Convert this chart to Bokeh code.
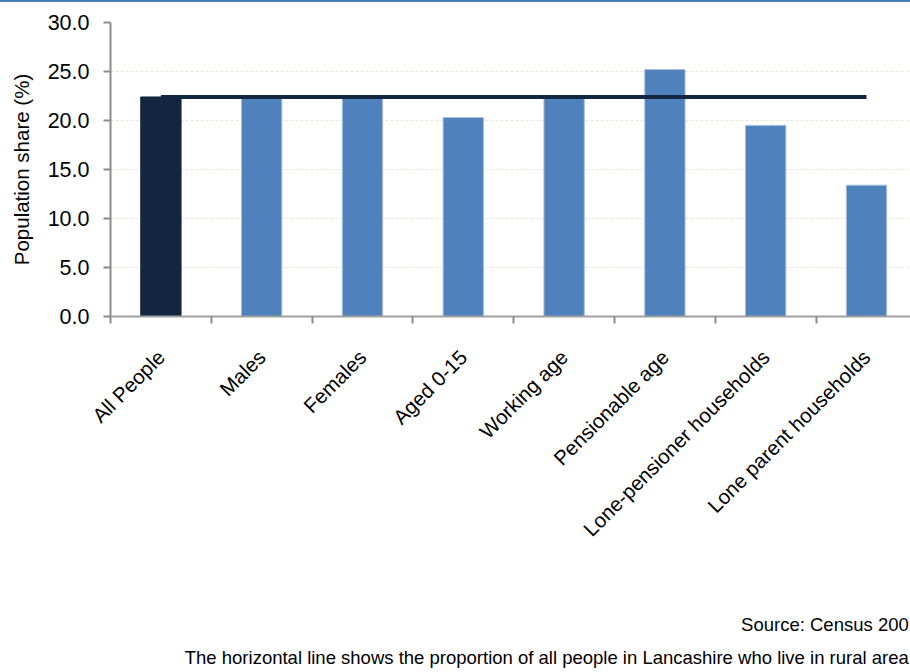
from bokeh.plotting import figure
from bokeh.layouts import column
from bokeh.models import (Range1d, FixedTicker, NumeralTickFormatter, Div,
                          ColumnDataSource)
from bokeh.core.properties import value
from bokeh.embed import file_html
from bokeh.resources import INLINE

# ---- data ----
categories = ["All People", "Males", "Females", "Aged 0-15", "Working age",
              "Pensionable age", "Lone-pensioner households", "Lone parent households"]
shares = [22.4, 22.3, 22.5, 20.3, 22.5, 25.2, 19.5, 13.4]
all_people_line = 22.4
y_ticks = [0, 5, 10, 15, 20, 25, 30]
source_note = "Source: Census 200"
line_note = "The horizontal line shows the proportion of all people in Lancashire who live in rural area"

FONT = "Liberation Sans"
DARK = "#13263f"
BLUE = "#4f81bd"

positions = [i + 0.5 for i in range(len(categories))]
colors = [DARK] + [BLUE] * (len(categories) - 1)
lines = [DARK] + ["#a9c0dc"] * (len(categories) - 1)
src = ColumnDataSource(dict(x=positions, top=shares, color=colors, lc=lines))

# thin blue rule at the very top
top_rule = Div(text="", width=910, height=2,
               styles={"background-color": "#4a7ebb", "margin": "0"})

p = figure(width=910, height=598, output_backend="svg", toolbar_location=None,
           x_range=Range1d(0, 800 / 100.8), y_range=Range1d(0, 30),
           min_border_left=110, min_border_right=0, min_border_top=20,
           min_border_bottom=284)
p.outline_line_color = None
p.background_fill_color = "white"
p.border_fill_color = "white"

p.vbar(x="x", top="top", width=0.4, bottom=0, fill_color="color",
       line_color="lc", line_width=1, source=src)
p.line(x=[positions[0], positions[-1]], y=[all_people_line, all_people_line],
       line_color=DARK, line_width=4)

# grid
p.xgrid.grid_line_color = None
p.ygrid.grid_line_color = "#ebe6d8"
p.ygrid.grid_line_dash = "3 2"
p.ygrid.grid_line_width = 1

# y axis
p.yaxis.ticker = FixedTicker(ticks=y_ticks)
p.yaxis.formatter = NumeralTickFormatter(format="0.0")
p.yaxis.axis_label = "Population share (%)"
p.yaxis.axis_label_text_font = FONT
p.yaxis.axis_label_text_font_style = "normal"
p.yaxis.axis_label_text_font_size = "20.5px"
p.yaxis.axis_label_text_color = "black"
p.yaxis.axis_label_standoff = 12
p.yaxis.major_label_text_font = FONT
p.yaxis.major_label_text_font_size = "21.5px"
p.yaxis.major_label_text_color = "black"
p.yaxis.major_label_standoff = 14
p.yaxis.major_tick_out = 7
p.yaxis.major_tick_in = 0
p.yaxis.minor_tick_line_color = None
p.yaxis.axis_line_color = "#8c8c8c"
p.yaxis.axis_line_width = 2
p.yaxis.major_tick_line_color = "#8c8c8c"
p.yaxis.major_tick_line_width = 2

# x axis: labels at category centres, tick marks at category boundaries
p.xaxis.ticker = FixedTicker(ticks=positions,
                             minor_ticks=list(range(len(categories) + 1)))
p.xaxis.major_label_overrides = {pos: c for pos, c in zip(positions, categories)}
p.xaxis.major_label_orientation = 0.785398
p.xaxis.major_label_text_font = FONT
p.xaxis.major_label_text_font_size = "20.5px"
p.xaxis.major_label_text_color = "black"
p.xaxis.major_tick_line_color = None
p.xaxis.major_tick_out = 0
p.xaxis.major_tick_in = 0
p.xaxis.major_label_standoff = 30
p.xaxis.minor_tick_line_color = "#8c8c8c"
p.xaxis.minor_tick_line_width = 2
p.xaxis.minor_tick_out = 7
p.xaxis.minor_tick_in = 0
p.xaxis.axis_line_color = "#a0a0a0"
p.xaxis.axis_line_width = 2

# footer notes
foot = figure(width=910, height=72, output_backend="svg", toolbar_location=None,
              x_range=Range1d(0, 910), y_range=Range1d(72, 0),
              min_border=0, min_border_left=0, min_border_right=0,
              min_border_top=0, min_border_bottom=0)
foot.axis.visible = False
foot.grid.visible = False
foot.outline_line_color = None
foot.border_fill_color = "white"
foot.text(x=[908], y=[24], text=[source_note], text_font=value(FONT),
          text_font_size="18.5px", text_color="black",
          text_baseline="alphabetic", text_align="right")
foot.text(x=[908], y=[57], text=[line_note], text_font=value(FONT),
          text_font_size="18.5px", text_color="black",
          text_baseline="alphabetic", text_align="right")

layout = column(top_rule, p, foot, spacing=0)
open("out.html", "w").write(file_html(layout, INLINE))
